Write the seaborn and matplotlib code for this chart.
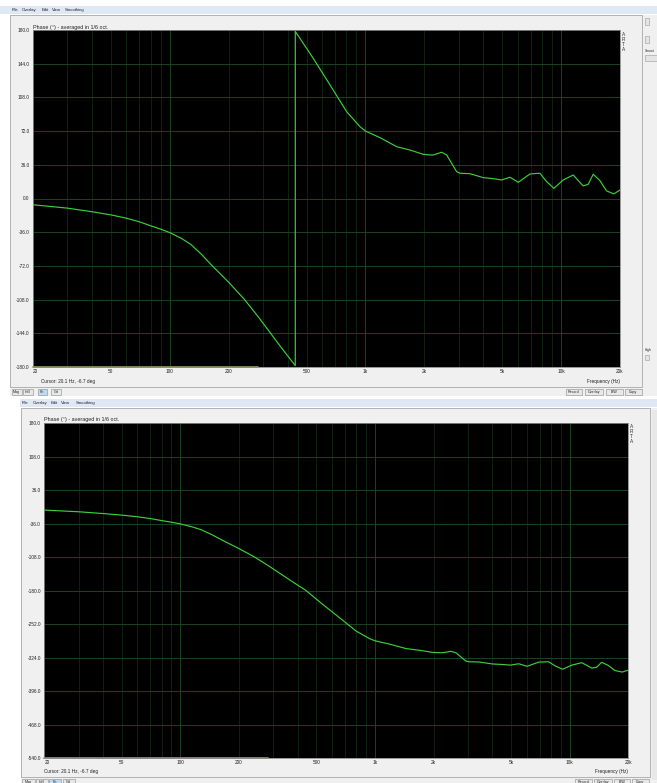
import matplotlib
matplotlib.use('Agg')
import matplotlib.pyplot as plt
from matplotlib.patches import Rectangle
import seaborn as sns
import pandas as pd

# phase (log frequency axis)
freq = [20, 30, 40, 50, 60, 70, 80, 90, 100, 115, 128, 145, 165, 200, 240, 280, 325, 380, 438,
        541, 659, 802, 937, 1000, 1186, 1443, 1688, 1974, 2136, 2222, 2452, 2600, 2758,
        2924, 3040, 3420, 4000, 4500, 4964, 5474, 6040, 6928, 7794, 8428, 9184, 10254,
        11532, 12972, 13756, 14596, 15786, 17076, 18614, 20000]
phase_unwrapped = [-6.7, -10.3, -14.1, -17.5, -21.0, -24.9, -29.2, -32.8, -36.4, -42.8, -49.0,
                   -59.5, -72.0, -89.5, -107.5, -125.0, -143.0, -162.0, -178.5,
                   -210.2, -238.7, -267.3, -283.2, -287.9, -295.0, -304.6, -308.2, -312.8,
                   -313.5, -313.5, -310.6, -313.5, -322.4, -331.3, -333.0, -333.5, -337.7,
                   -338.8, -340.2, -337.3, -342.7, -333.8, -333.0, -342.0, -349.1, -340.2,
                   -334.9, -346.6, -344.8, -334.1, -340.9, -351.9, -355.1, -350.9]

# wrapped phase (upper screenshot), jumps from -180 to +180 near 438 Hz
freq_wrapped = [20, 30, 40, 50, 60, 70, 80, 90, 100, 115, 128, 145, 165, 200, 240, 280, 325, 380,
                438, 438, 541, 659, 802, 937, 1000, 1186, 1443, 1688, 1974, 2136, 2222, 2452,
                2600, 2758, 2924, 3040, 3420, 4000, 4500, 4964, 5474, 6040, 6928, 7794, 8428,
                9184, 10254, 11532, 12972, 13756, 14596, 15786, 17076, 18614, 20000]
phase_wrapped = [-6.7, -10.3, -14.1, -17.5, -21.0, -24.9, -29.2, -32.8, -36.4, -42.8, -49.0,
                 -59.5, -72.0, -89.5, -107.5, -125.0, -143.0, -162.0, -178.5,
                 178.5, 149.8, 121.3, 92.7, 76.8, 72.1, 65.0, 55.4, 51.8, 47.2, 46.5, 46.5,
                 49.4, 46.5, 37.6, 28.7, 27.0, 26.5, 22.3, 21.2, 19.8, 22.7, 17.3, 26.2, 27.0,
                 18.0, 10.9, 19.8, 25.1, 13.4, 15.2, 25.9, 19.1, 8.1, 4.9, 9.1]

xticks = [20, 50, 100, 200, 500, 1000, 2000, 5000, 10000, 20000]
xtick_labels = ['20', '50', '100', '200', '500', '1k', '2k', '5k', '10k', '20k']
yticks_top = [-180.0, -144.0, -108.0, -72.0, -36.0, 0.0, 36.0, 72.0, 108.0, 144.0, 180.0]
yticks_bot = [-540.0, -468.0, -396.0, -324.0, -252.0, -180.0, -108.0, -36.0, 36.0, 108.0, 180.0]
grid_minor = [30, 40, 50, 60, 70, 80, 90, 200, 300, 400, 500, 600, 700, 800, 900,
              2000, 3000, 4000, 5000, 6000, 7000, 8000, 9000]
grid_major = [100, 1000, 10000]
cursor_band = [20, 281]

menu_words = ['File', 'Overlay', 'Edit', 'View', 'Smoothing']
left_buttons = ['Mag', 'Hull', 'Ph', 'Gd']
right_buttons = ['Record', 'Overlay', 'B/W', 'Copy']

sns.set_style('white')
plt.rcParams['font.family'] = ['Liberation Sans', 'DejaVu Sans']

W, H = 657, 783
fig = plt.figure(figsize=(W / 100, H / 100), dpi=100, facecolor='white')

# background layer in pixel coordinates for the window chrome
bg = fig.add_axes([0, 0, 1, 1])
bg.set_xlim(0, W)
bg.set_ylim(H, 0)
bg.axis('off')

LINE = '#3ccf3c'
GRID = '#1d4823'
GRID_MIN = '#132c17'
FS = 3.4


def chrome(menu_y, menu_x0, menu_xs, fill, border, title_xy, foot_y, ax_l, ax_r,
           lbtn, rbtn, btn_y, arta_xy):
    bg.add_patch(Rectangle((menu_x0, menu_y - 4), W - menu_x0, 8, color='#dfe8f4', lw=0))
    for word, x in zip(menu_words, menu_xs):
        bg.text(x, menu_y, word, fontsize=3.1, va='center', color='#202020')
    x0, y0, x1, y1 = fill
    bg.add_patch(Rectangle((x0, y0), x1 - x0, y1 - y0, color='#f0f0f0', lw=0))
    x0, y0, x1, y1 = border
    bg.add_patch(Rectangle((x0, y0), x1 - x0, y1 - y0, fill=False, ec='#a8a8a8', lw=0.6))
    bg.text(title_xy[0], title_xy[1], 'Phase (°) - averaged in 1/6 oct.', fontsize=3.9,
            va='center', color='#202020')
    bg.text(ax_l, foot_y, 'Cursor: 20.1 Hz, -6.7 deg', fontsize=FS, va='center', color='#202020')
    bg.text(ax_r, foot_y, 'Frequency (Hz)', fontsize=FS, va='center', ha='right', color='#202020')
    for (bx0, bx1), name in zip(lbtn, left_buttons):
        fc = '#bcdcf4' if name == 'Ph' else '#e8e8e8'
        bg.add_patch(Rectangle((bx0, btn_y), bx1 - bx0, 6.5, fc=fc, ec='#8a8a8a', lw=0.4))
        bg.text((bx0 + bx1) / 2, btn_y + 3.3, name, fontsize=2.6, ha='center', va='center')
    for (bx0, bx1), name in zip(rbtn, right_buttons):
        bg.add_patch(Rectangle((bx0, btn_y), bx1 - bx0, 6.5, fc='#e8e8e8', ec='#8a8a8a', lw=0.4))
        bg.text((bx0 + bx1) / 2, btn_y + 3.3, name, fontsize=2.6, ha='center', va='center')
    for i, ch in enumerate('ARTA'):
        bg.text(arta_xy[0], arta_xy[1] + i * 5.2, ch, fontsize=3.4, ha='center', va='center',
                color='#303030')


# upper screenshot
chrome(10, 0, [11.7, 22, 41.7, 51.7, 65.3], (10, 15, W, 396), (10, 15, 642, 387), (33, 27),
       381.5, 41, 620,
       [(11.7, 21.7), (22.7, 33.3), (37.7, 46.7), (51, 61)],
       [(565.7, 582.3), (585, 602.7), (605.7, 622.7), (625.3, 641.7)], 388.7, (623.5, 34))
for (rx, ry, rw, rh) in [(645, 18, 4, 7), (645, 36, 4, 7), (645, 55, 12, 6), (645, 355, 4, 5)]:
    bg.add_patch(Rectangle((rx, ry), rw, rh, fc='#e4e4e4', ec='#9a9a9a', lw=0.4))
bg.text(645, 51, 'Smoot', fontsize=2.4, va='center')
bg.text(645, 350, 'High', fontsize=2.4, va='center')

# lower screenshot
chrome(403, 20, [21.7, 32.7, 51, 61, 76], (21, 408, W, H + 5), (21, 408, 650, 777), (44.3, 419.7),
       772, 44.3, 628.3,
       [(22, 34.5), (35.5, 47.5), (49, 61), (62.5, 75)],
       [(575, 592), (594, 612), (614, 630), (632, 649)], 779, (631.7, 426))

# right edge panels peeking in
bg.add_patch(Rectangle((652, 410), 5, 370, fc='#e8e8e8', lw=0))


def phase_axes(box, df, ylim, yticks):
    l, t, r, b = box
    ax = fig.add_axes([l / W, 1 - b / H, (r - l) / W, (b - t) / H])
    ax.set_facecolor('black')
    ax.set_xscale('log')
    ax.set_xlim(20, 20000)
    ax.set_ylim(*ylim)
    for f in grid_minor:
        ax.axvline(f, color=GRID_MIN, lw=0.55, zorder=1)
    for f in grid_major:
        ax.axvline(f, color=GRID, lw=0.65, zorder=1)
    for v in yticks[1:-1]:
        ax.axhline(v, color=GRID, lw=0.65, zorder=1)
    ax.plot(cursor_band, [ylim[0], ylim[0]], color='#8f8b5c', lw=1.3, zorder=2, clip_on=False)
    sns.lineplot(data=df, x='freq', y='phase', ax=ax, sort=False, estimator=None,
                 color=LINE, lw=0.85, zorder=3)
    ax.set_xticks(xticks, xtick_labels)
    ax.minorticks_off()
    ax.set_yticks(yticks, [f'{v:.1f}' for v in yticks])
    ax.tick_params(axis='x', length=0, pad=1.5, labelsize=FS, colors='#202020')
    ax.tick_params(axis='y', length=1.5, width=0.5, pad=1.0, labelsize=FS, colors='#202020',
                   direction='out')
    ax.get_xticklabels()[0].set_ha('left')
    ax.set_xlabel('')
    ax.set_ylabel('')
    for s in ax.spines.values():
        s.set_color('#8a8a8a')
        s.set_linewidth(0.6)
    return ax


df_top = pd.DataFrame({'freq': freq_wrapped, 'phase': phase_wrapped})
df_bot = pd.DataFrame({'freq': freq, 'phase': phase_unwrapped})

phase_axes((33, 30, 620, 367), df_top, (-180, 180), yticks_top)
phase_axes((44.3, 423.3, 628.3, 758), df_bot, (-540, 180), yticks_bot)

fig.savefig('out.png', dpi=100, facecolor='white')
